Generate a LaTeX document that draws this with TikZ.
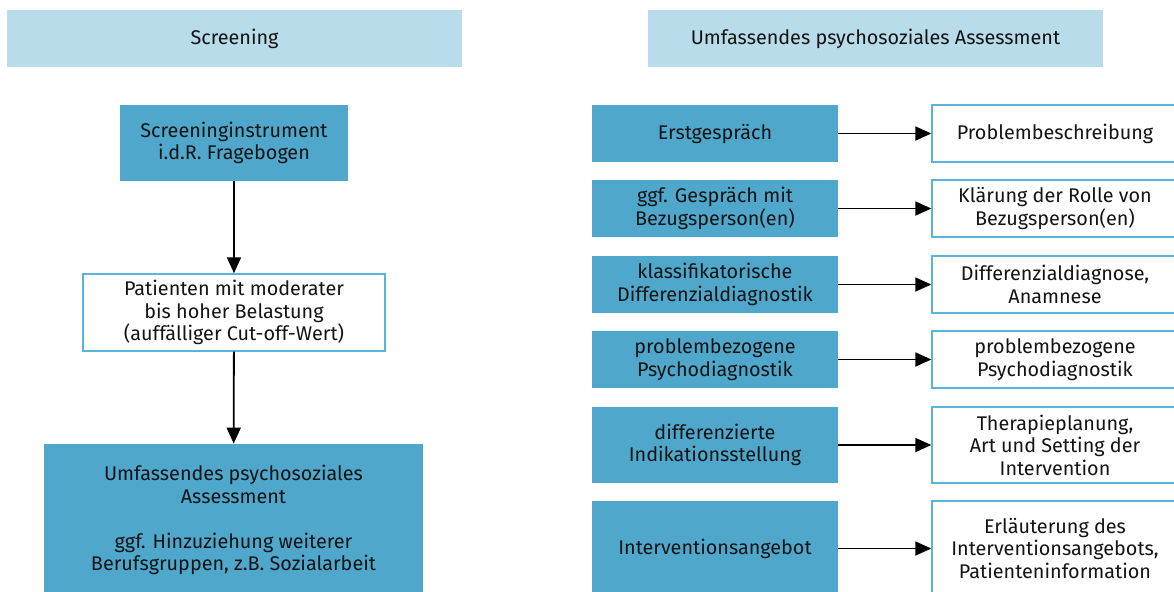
\documentclass[tikz,border=0pt]{standalone}
\usepackage{fontspec}
\setmainfont{Fira Sans}
\usetikzlibrary{arrows.meta}
\definecolor{hdr}{HTML}{B8DCEA}
\definecolor{dark}{HTML}{4FA8CB}
\definecolor{brd}{HTML}{5AB4DA}
\definecolor{txt}{HTML}{141414}
\begin{document}
\begin{tikzpicture}[x=0.5pt,y=-0.5pt,
  every node/.style={align=center,inner sep=0pt,text=txt,font=\fontsize{9.9}{11.2}\selectfont},
  hbox/.style={fill=hdr,minimum width=227.5pt,minimum height=28.5pt},
  dbox/.style={fill=dark},
  wbox/.style={fill=white,draw=brd,line width=0.7pt},
  arr/.style={-{Triangle[length=8pt,width=7pt]},line width=0.9pt,black}]
\useasboundingbox (0,0) rectangle (1174,591);
% headers
\node[hbox] (h1) at (234.5,38.5) {Screening};
\node[hbox] (h2) at (875.5,38.5) {Umfassendes psychosoziales Assessment};
% left column
\node[dbox,minimum width=114pt,minimum height=38pt] (s1) at (234,143) {Screeninginstrument\\i.d.R. Fragebogen};
\node[wbox,minimum width=151pt,minimum height=38.5pt] (s2) at (234,312.5) {Patienten mit moderater\\bis hoher Belastung\\(auffälliger Cut-off-Wert)};
\node[dbox,minimum width=189.5pt,minimum height=76pt] (s3) at (233.5,520) {Umfassendes psychosoziales\\Assessment\\[11.2pt]ggf. Hinzuziehung weiterer\\Berufsgruppen, z.B. Sozialarbeit};
\draw[arr] (s1) -- (s2);
\draw[arr] (s2) -- (s3);
% right column
\node[dbox,minimum width=123pt,minimum height=28.5pt] (a1) at (715,133.5) {Erstgespräch};
\node[wbox,minimum width=123pt,minimum height=28.5pt] (b1) at (1055,133.5) {Problembeschreibung};
\node[dbox,minimum width=123pt,minimum height=28.5pt] (a2) at (715,208.5) {ggf. Gespräch mit\\Bezugsperson(en)};
\node[wbox,minimum width=123pt,minimum height=28.5pt] (b2) at (1055,208.5) {Klärung der Rolle von\\Bezugsperson(en)};
\node[dbox,minimum width=123pt,minimum height=28.5pt] (a3) at (715,284.5) {klassifikatorische\\Differenzialdiagnostik};
\node[wbox,minimum width=123pt,minimum height=28.5pt] (b3) at (1055,284.5) {Differenzialdiagnose,\\Anamnese};
\node[dbox,minimum width=123pt,minimum height=28.5pt] (a4) at (715,359.5) {problembezogene\\Psychodiagnostik};
\node[wbox,minimum width=123pt,minimum height=28.5pt] (b4) at (1055,359.5) {problembezogene\\Psychodiagnostik};
\node[dbox,minimum width=123pt,minimum height=38pt] (a5) at (715,445) {differenzierte\\Indikationsstellung};
\node[wbox,minimum width=123pt,minimum height=38pt] (b5) at (1055,445) {Therapieplanung,\\Art und Setting der\\Intervention};
\node[dbox,minimum width=123pt,minimum height=47.5pt] (a6) at (715,548.5) {Interventionsangebot};
\node[wbox,minimum width=123pt,minimum height=47.5pt] (b6) at (1055,548.5) {Erläuterung des\\Interventionsangebots,\\Patienteninformation};
\foreach \i in {1,...,6} \draw[arr] (a\i) -- (b\i);
\end{tikzpicture}
\end{document}
